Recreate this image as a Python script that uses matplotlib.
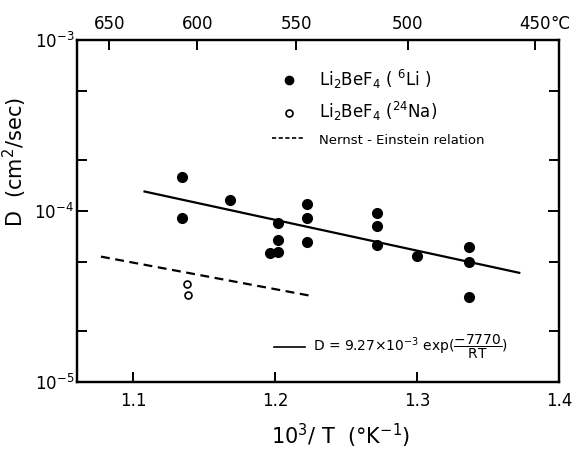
import numpy as np
import matplotlib
matplotlib.use("Agg")
import matplotlib.pyplot as plt
from matplotlib.lines import Line2D
from matplotlib.ticker import FixedLocator, NullFormatter, FixedFormatter
from matplotlib.transforms import offset_copy

plt.rcParams['font.family'] = ['DejaVu Sans']
plt.rcParams['mathtext.default'] = 'regular'

# 6Li tracer diffusion data (10^3/T, D)
li_x = [1.1345, 1.1345, 1.1683, 1.2021, 1.2021, 1.2021, 1.1963,
        1.2228, 1.2228, 1.2228, 1.2716, 1.2716, 1.2716, 1.3000,
        1.3366, 1.3366, 1.3366]
li_y = [1.59e-4, 9.16e-5, 1.16e-4, 8.53e-5, 6.74e-5, 5.77e-5, 5.65e-5,
        1.096e-4, 9.04e-5, 6.59e-5, 9.67e-5, 8.19e-5, 6.30e-5, 5.48e-5,
        6.13e-5, 5.01e-5, 3.16e-5]

# 24Na tracer data
na_x = [1.1376, 1.1383]
na_y = [3.73e-5, 3.23e-5]

# Fitted line endpoints
fit_x = [1.108, 1.372]
fit_y = [1.30e-4, 4.35e-5]

# Nernst-Einstein relation endpoints
ne_x = [1.0773, 1.2235]
ne_y = [5.41e-5, 3.21e-5]

# Axes ticks
x_ticks = [1.1, 1.2, 1.3, 1.4]
x_ticklabels = ["1.1", "1.2", "1.3", "1.4"]
temps_c = [650, 600, 550, 500, 450]
temp_labels = ["650", "600", "550", "500", "450"]

fig = plt.figure(figsize=(5.75, 4.5), dpi=100)
ax = fig.add_axes([77/575, 1-382/450, 482/575, 342/450])

ax.set_yscale('log')
ax.set_xlim(1.0604, 1.4)
ax.set_ylim(1e-5, 1e-3)

ax.plot(fit_x, fit_y, color='black', lw=1.6)
ax.plot(ne_x, ne_y, color='black', lw=1.6, ls=(0, (4, 2.5)))
ax.plot(li_x, li_y, 'o', color='black', ms=7, ls='none')
ax.plot(na_x, na_y, 'o', mfc='white', mec='black', mew=1.2, ms=5, ls='none')

for s in ax.spines.values():
    s.set_linewidth(1.6)

ax.xaxis.set_major_locator(FixedLocator(x_ticks))
ax.xaxis.set_major_formatter(FixedFormatter(x_ticklabels))
ax.xaxis.set_minor_locator(FixedLocator([]))
ax.yaxis.set_major_locator(FixedLocator([1e-5, 1e-4, 1e-3]))
ax.yaxis.set_major_formatter(FixedFormatter([r"$10^{-5}$", r"$10^{-4}$", r"$10^{-3}$"]))
ax.yaxis.set_minor_locator(FixedLocator([2e-5, 5e-5, 2e-4, 5e-4]))
ax.yaxis.set_minor_formatter(NullFormatter())

ax.tick_params(axis='both', which='both', direction='in', width=1.4,
               labelsize=12, top=False, right=True)
ax.tick_params(axis='x', which='major', length=7, pad=7)
ax.tick_params(axis='y', which='major', length=8, pad=2)
ax.tick_params(axis='y', which='minor', length=7)

# top temperature axis
ax2 = ax.twiny()
ax2.set_xlim(ax.get_xlim())
top_pos = [1000.0/(t + 273.15) for t in temps_c]
ax2.xaxis.set_major_locator(FixedLocator(top_pos))
ax2.xaxis.set_major_formatter(FixedFormatter(temp_labels))
ax2.tick_params(axis='x', direction='in', length=7, width=1.4, labelsize=12, pad=5)
for s in ax2.spines.values():
    s.set_linewidth(1.6)
tr = offset_copy(ax2.get_xaxis_transform(), fig=fig, x=11, y=5, units='points')
ax2.text(top_pos[-1], 1.0, "°C", transform=tr,
         fontsize=12, ha='left', va='bottom')

ax.set_xlabel(r"$10^3$/ T  (°K$^{-1}$)", fontsize=15)
ax.xaxis.set_label_coords((341-77)/482, -0.115)
ax.set_ylabel(r"D  (cm$^2$/sec)", fontsize=15)
ax.yaxis.set_label_coords(-0.1, 0.643)

# legends
h1 = Line2D([], [], marker='o', color='black', ls='none', ms=6)
h2 = Line2D([], [], marker='o', mfc='white', mec='black', mew=1.2, ls='none', ms=5)
h3 = Line2D([], [], color='black', lw=1.2, ls=(0, (2.5, 1.5)))
leg = ax.legend([h1, h2, h3],
                [r"Li$_2$BeF$_4$ ( $^6$Li )", r"Li$_2$BeF$_4$ ($^{24}$Na)",
                 "Nernst - Einstein relation"],
                loc='upper left', bbox_to_anchor=((272-77)/482, (382-68)/342),
                frameon=False, fontsize=12, handlelength=2.0, handletextpad=0.8,
                labelspacing=0.55, borderpad=0, borderaxespad=0)
leg.get_texts()[2].set_fontsize(9.5)
ax.add_artist(leg)

h4 = Line2D([], [], color='black', lw=1.2)
leg2 = ax.legend([h4], [r"D = 9.27×10$^{-3}$ exp($\dfrac{-7770}{RT}$)"],
                 loc='center left', bbox_to_anchor=((274-77)/482, (382-347)/342),
                 frameon=False, fontsize=10, handlelength=2.2, handletextpad=0.6,
                 borderpad=0, borderaxespad=0)

fig.savefig("out.png", dpi=100)
